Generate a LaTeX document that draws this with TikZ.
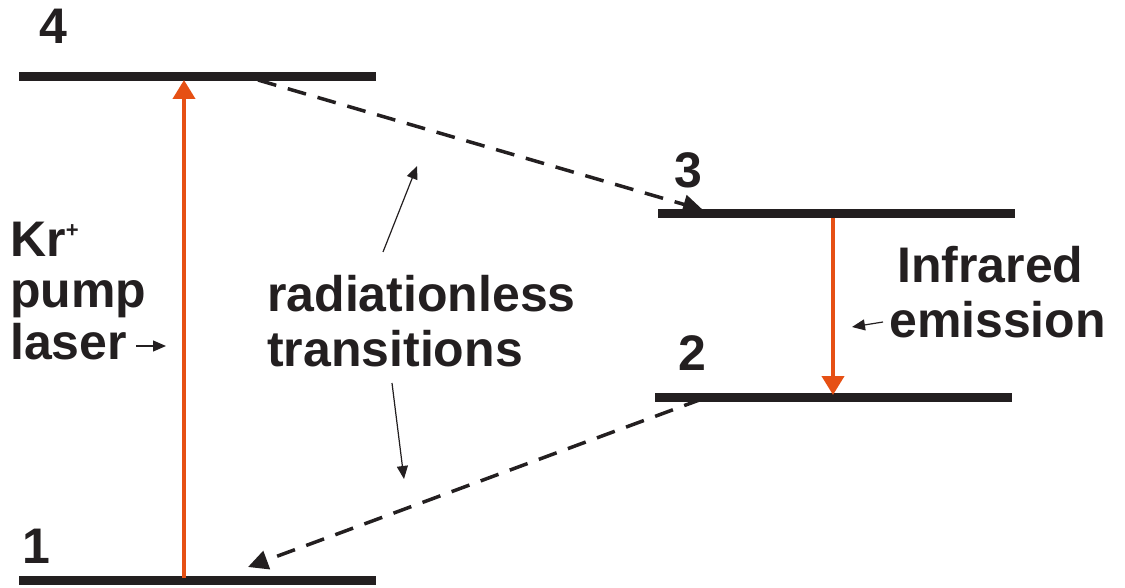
\documentclass[tikz,border=0pt]{standalone}
\usepackage{fontspec}
\setmainfont{Liberation Sans}
\usetikzlibrary{arrows.meta}
\definecolor{ink}{RGB}{35,31,32}
\definecolor{pumpc}{RGB}{230,80,20}
\begin{document}
\begin{tikzpicture}[x=1pt,y=-1pt,
  levelline/.style={line width=9pt, draw=ink},
  lbl/.style={anchor=base west, inner sep=0pt, font=\fontsize{50}{56}\selectfont\bfseries, text=ink},
  pumparrow/.style={line width=4pt, draw=pumpc, -{Triangle[length=19pt,width=22pt]}, fill=pumpc},
  dasharrow/.style={line width=3.5pt, draw=ink, dash pattern=on 19pt off 12pt, -{Triangle[length=20pt,width=19pt]}},
  thinarrow/.style={line width=1.2pt, draw=ink, -{Triangle[length=13pt,width=11pt]}}]
\useasboundingbox (0,0) rectangle (1125,588);
% levels
\coordinate (l4a) at (19,77);  \coordinate (l4b) at (376,77);
\coordinate (l3a) at (658,214); \coordinate (l3b) at (1015,214);
\coordinate (l2a) at (655,397); \coordinate (l2b) at (1012,397);
\coordinate (l1a) at (19,580); \coordinate (l1b) at (376,580);
\draw[levelline] (l4a) -- (l4b);
\draw[levelline] (l3a) -- (l3b);
\draw[levelline] (l2a) -- (l2b);
\draw[levelline] (l1a) -- (l1b);
% level numbers
\node[lbl] (n4) at (39,44) {4};
\node[lbl] (n3) at (674,188) {3};
\node[lbl] (n2) at (678,370) {2};
\node[lbl] (n1) at (22,563) {1};
% pump arrow
\coordinate (pb) at (184,578);
\coordinate (pt) at (184,80);
\draw[pumparrow] (pb) -- (pt);
% emission arrow
\coordinate (eb) at (833,218);
\coordinate (et) at (833,395);
\draw[pumparrow] (eb) -- (et);
% dashed transitions
\coordinate (d1s) at (258,80);
\coordinate (d1e) at (703,210);
\draw[dasharrow] (d1s) -- (d1e);
\coordinate (d2s) at (702,399);
\coordinate (d2e) at (248,567);
\draw[dasharrow] (d2s) -- (d2e);
% labels
\node[lbl] (kr) at (10,257) {Kr{\fontsize{22}{22}\selectfont\raisebox{19pt}{+}}};
\node[lbl] (pump) at (10,307) {pump};
\node[lbl] (laser) at (10,359) {laser};
\node[lbl] (rad) at (267,312) {radiationless};
\node[lbl] (tra) at (267,366) {transitions};
\node[lbl] (inf) at (897,283) {Infrared};
\node[lbl] (emi) at (889,337) {emission};
% thin pointer arrows
\coordinate (la) at (136,346); \coordinate (lb) at (166,346);
\draw[thinarrow] (la) -- (lb);
\coordinate (ra) at (383,252); \coordinate (rb) at (417,166);
\draw[thinarrow] (ra) -- (rb);
\coordinate (rc) at (392,383); \coordinate (rd) at (404,479);
\draw[thinarrow] (rc) -- (rd);
\coordinate (ia) at (883,322); \coordinate (ib) at (852,327);
\draw[thinarrow] (ia) -- (ib);
\end{tikzpicture}
\end{document}
